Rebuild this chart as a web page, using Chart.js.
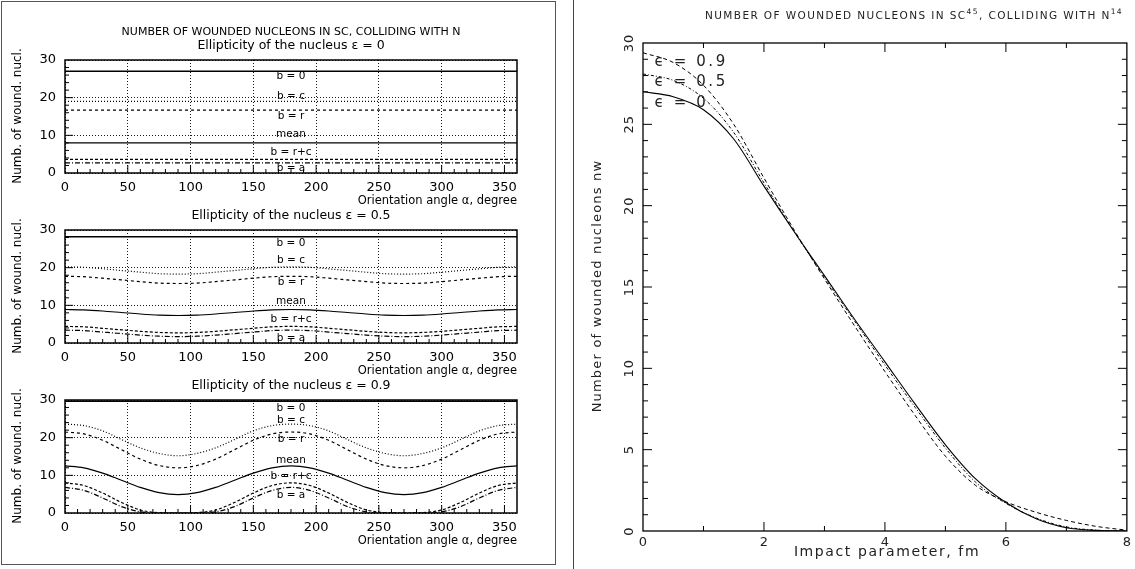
<!DOCTYPE html>
<html>
<head>
<meta charset="utf-8">
<script src="https://cdn.jsdelivr.net/npm/chart.js@4.4.1/dist/chart.umd.min.js"></script>
<style>
  body { margin: 0; background: #fff; width: 1135px; height: 569px; position: relative; overflow: hidden; }
  canvas { position: absolute; }
  #leftBox { position: absolute; left: 1px; top: 1px; width: 553px; height: 562px; border: 1.5px solid #555; }
  #rightLine { position: absolute; left: 573px; top: 0; width: 1px; height: 569px; background: #444; }
</style>
</head>
<body>
<div id="leftBox"></div>
<div id="rightLine"></div>
<canvas id="c1"></canvas>
<canvas id="c2"></canvas>
<canvas id="c3"></canvas>
<canvas id="c4"></canvas>
<script>
// ---- left panels: wounded nucleons vs orientation angle ----
const flatAngles = [0, 360]
const angles = [0, 15, 30, 45, 60, 75, 90, 105, 120, 135, 150, 165, 180, 195, 210, 225, 240, 255, 270, 285, 300, 315, 330, 345, 360]
const angleTicks = [0, 50, 100, 150, 200, 250, 300, 350]
const nwTicks = [0, 10, 20, 30]

// eps = 0 : flat lines
const e0_b0 = [27.0, 27.0]
const e0_bc = [19.0, 19.0]
const e0_br = [16.7, 16.7]
const e0_mean = [8.0, 8.0]
const e0_brc = [3.6, 3.6]
const e0_ba = [2.7, 2.7]

// eps = 0.5
const e05_b0 = [28.2, 28.2]
const e05_bc = [20.2, 20.1, 19.7, 19.25, 18.8, 18.4, 18.3, 18.4, 18.8, 19.25, 19.7, 20.1, 20.2, 20.1, 19.7, 19.25, 18.8, 18.4, 18.3, 18.4, 18.8, 19.25, 19.7, 20.1, 20.2]
const e05_br = [17.7, 17.6, 17.2, 16.75, 16.3, 15.9, 15.8, 15.9, 16.3, 16.75, 17.2, 17.6, 17.7, 17.6, 17.2, 16.75, 16.3, 15.9, 15.8, 15.9, 16.3, 16.75, 17.2, 17.6, 17.7]
const e05_mean = [8.9, 8.8, 8.5, 8.1, 7.7, 7.4, 7.3, 7.4, 7.7, 8.1, 8.5, 8.8, 8.9, 8.8, 8.5, 8.1, 7.7, 7.4, 7.3, 7.4, 7.7, 8.1, 8.5, 8.8, 8.9]
const e05_brc = [4.4, 4.3, 3.9, 3.5, 3.1, 2.8, 2.7, 2.8, 3.1, 3.5, 3.9, 4.3, 4.4, 4.3, 3.9, 3.5, 3.1, 2.8, 2.7, 2.8, 3.1, 3.5, 3.9, 4.3, 4.4]
const e05_ba = [3.4, 3.3, 2.9, 2.5, 2.1, 1.8, 1.7, 1.8, 2.1, 2.5, 2.9, 3.3, 3.4, 3.3, 2.9, 2.5, 2.1, 1.8, 1.7, 1.8, 2.1, 2.5, 2.9, 3.3, 3.4]

// eps = 0.9
const e09_b0 = [29.7, 29.7]
const e09_bc = [23.6, 23.2, 21.8, 19.5, 17.3, 15.8, 15.2, 15.8, 17.3, 19.5, 21.8, 23.2, 23.6, 23.2, 21.8, 19.5, 17.3, 15.8, 15.2, 15.8, 17.3, 19.5, 21.8, 23.2, 23.6]
const e09_br = [21.5, 21.0, 19.3, 16.8, 14.3, 12.6, 12.0, 12.6, 14.3, 16.8, 19.3, 21.0, 21.5, 21.0, 19.3, 16.8, 14.3, 12.6, 12.0, 12.6, 14.3, 16.8, 19.3, 21.0, 21.5]
const e09_mean = [12.5, 12.0, 10.6, 8.7, 6.8, 5.4, 4.9, 5.4, 6.8, 8.7, 10.6, 12.0, 12.5, 12.0, 10.6, 8.7, 6.8, 5.4, 4.9, 5.4, 6.8, 8.7, 10.6, 12.0, 12.5]
const e09_brc = [8.0, 7.3, 5.3, 2.8, 0.8, 0.1, 0.0, 0.1, 0.8, 2.8, 5.3, 7.3, 8.0, 7.3, 5.3, 2.8, 0.8, 0.1, 0.0, 0.1, 0.8, 2.8, 5.3, 7.3, 8.0]
const e09_ba = [6.8, 6.0, 4.0, 1.7, 0.3, 0.0, 0.0, 0.0, 0.3, 1.7, 4.0, 6.0, 6.8, 6.0, 4.0, 1.7, 0.3, 0.0, 0.0, 0.0, 0.3, 1.7, 4.0, 6.0, 6.8]

// ---- right panel: wounded nucleons vs impact parameter ----
const impact = [0, 0.5, 1, 1.5, 2, 2.5, 3, 3.5, 4, 4.5, 5, 5.5, 6, 6.5, 7, 7.5, 8]
const nwEps0 = [27.0, 26.7, 25.9, 24.1, 21.2, 18.4, 15.7, 13.0, 10.4, 7.8, 5.3, 3.2, 1.75, 0.75, 0.2, 0.04, 0.0]
const nwEps05 = [28.1, 27.7, 26.6, 24.5, 21.4, 18.4, 15.6, 12.9, 10.2, 7.6, 5.1, 3.0, 1.7, 0.8, 0.25, 0.05, 0.0]
const nwEps09 = [29.4, 28.8, 27.4, 25.0, 21.7, 18.5, 15.5, 12.6, 9.8, 7.1, 4.6, 2.8, 1.8, 1.15, 0.65, 0.28, 0.05]
const impactTicks = [0, 2, 4, 6, 8]
const rightNwTicks = [0, 5, 10, 15, 20, 25, 30]

const LEFT_FONT = 'DejaVu Sans'
const RIGHT_FONT = 'DejaVu Sans'

// styles per curve
const dashes = {
  b0: [], bc: [1, 2], br: [3, 3], mean: [], brc: [3, 2], ba: [5, 2, 1, 2]
}

const toPoints = (xs, ys) => xs.map((x, i) => ({x: x, y: ys[i]}))

const lineSet = (xs, ys, dash, width) => ({
  data: toPoints(xs, ys),
  borderColor: '#000',
  borderWidth: width || 1.2,
  borderDash: dash,
  pointRadius: 0,
  fill: false,
  cubicInterpolationMode: 'monotone'
})

// draws the frame, inward ticks and all texts
const framePlugin = {
  id: 'frame',
  afterDatasetsDraw(chart, args, opts) {
    const {ctx, chartArea: a, scales: {x, y}} = chart
    ctx.save()
    ctx.setLineDash([])
    ctx.strokeStyle = '#000'
    ctx.lineWidth = opts.frameWidth || 1.5
    ctx.strokeRect(a.left, a.top, a.right - a.left, a.bottom - a.top)
    ctx.lineWidth = 1
    ;(opts.ticks || []).forEach(t => {
      t.values.forEach(v => {
        ctx.beginPath()
        if (t.axis === 'x') {
          const px = x.getPixelForValue(v)
          t.sides.forEach(s => {
            const y0 = s === 'bottom' ? a.bottom : a.top
            const dir = s === 'bottom' ? -1 : 1
            ctx.moveTo(px, y0)
            ctx.lineTo(px, y0 + dir * t.len)
          })
        } else {
          const py = y.getPixelForValue(v)
          t.sides.forEach(s => {
            const x0 = s === 'left' ? a.left : a.right
            const dir = s === 'left' ? 1 : -1
            ctx.moveTo(x0, py)
            ctx.lineTo(x0 + dir * t.len, py)
          })
        }
        ctx.stroke()
      })
    })
    ctx.restore()
  },
  afterDraw(chart, args, opts) {
    const {ctx, scales: {x, y}} = chart
    const off = opts.offset || [0, 0]
    ctx.save()
    ctx.fillStyle = '#000'
    ctx.textBaseline = 'middle'
    ;(opts.texts || []).forEach(t => {
      let px, py
      if (t.dx !== undefined) {
        px = x.getPixelForValue(t.dx)
        py = y.getPixelForValue(t.dy)
      } else {
        px = t.px - off[0]
        py = t.py - off[1]
      }
      ctx.save()
      ctx.font = t.font
      ctx.letterSpacing = (t.spacing || 0) + 'px'
      ctx.fillStyle = t.color || '#000'
      ctx.translate(px, py)
      if (t.rotate) ctx.rotate(t.rotate)
      const segs = Array.isArray(t.text) ? t.text : [{t: t.text}]
      // measure rich text
      const supFont = t.supFont || t.font
      let total = 0
      segs.forEach(s => {
        ctx.font = s.sup ? supFont : t.font
        total += ctx.measureText(s.t).width
      })
      let cx = t.align === 'left' ? 0 : t.align === 'right' ? -total : -total / 2
      ctx.textAlign = 'left'
      segs.forEach(s => {
        ctx.font = s.sup ? supFont : t.font
        ctx.fillText(s.t, cx, s.sup ? -4 : 0)
        cx += ctx.measureText(s.t).width
      })
      ctx.restore()
    })
    // rotated y tick labels
    if (opts.yLabels) {
      const yl = opts.yLabels
      ctx.font = yl.font
      ctx.letterSpacing = (yl.spacing || 0) + 'px'
      ctx.fillStyle = yl.color || '#000'
      ctx.textAlign = 'center'
      yl.values.forEach(v => {
        ctx.save()
        ctx.translate(chart.chartArea.left - yl.gap, y.getPixelForValue(v))
        ctx.rotate(-Math.PI / 2)
        ctx.fillText(String(v), 0, 0)
        ctx.restore()
      })
    }
    ctx.restore()
  }
}
Chart.register(framePlugin)

const setupCanvas = (id, left, top, w, h) => {
  const c = document.getElementById(id)
  c.width = w
  c.height = h
  c.style.left = left + 'px'
  c.style.top = top + 'px'
  c.style.width = w + 'px'
  c.style.height = h + 'px'
  return c
}

// chart area of each left plot: x 65..517, height 113
const leftTops = [60, 230, 400]

const makeLeft = (id, idx, sets, subtitle, labelYs, extraTexts) => {
  const top = leftTops[idx]
  const cLeft = 4, cTop = top - 50, cW = 540, cH = 203
  const canvas = setupCanvas(id, cLeft, cTop, cW, cH)
  const bottom = top + 113
  const texts = [
    {text: subtitle, px: 291, py: top - 14, font: '12.5px ' + LEFT_FONT},
    {text: 'Orientation angle \u03b1, degree', px: 517, py: bottom + 28, font: '11.5px ' + LEFT_FONT, align: 'right'},
    {text: 'Numb. of wound. nucl.', px: 18, py: top + 56, font: '12px ' + LEFT_FONT, rotate: -Math.PI / 2}
  ].concat(extraTexts || [])
  const curveNames = ['b = 0', 'b = c', 'b = r', 'mean', 'b = r+c', 'b = a']
  curveNames.forEach((n, i) => {
    texts.push({text: n, dx: 180, dy: labelYs[i], font: '10.5px ' + LEFT_FONT})
  })
  const gridOpts = {color: '#000', lineWidth: 0.9, drawTicks: false}
  return new Chart(canvas, {
    type: 'line',
    data: {datasets: sets},
    options: {
      responsive: false,
      animation: false,
      devicePixelRatio: 1,
      layout: {padding: {left: 21, top: 50, right: 27, bottom: 18}},
      plugins: {
        legend: {display: false},
        tooltip: {enabled: false},
        frame: {
          offset: [cLeft, cTop],
          frameWidth: 1.5,
          texts: texts,
          ticks: [
            {axis: 'x', values: [10, 20, 30, 40, 60, 70, 80, 90, 110, 120, 130, 140, 160, 170, 180, 190, 210, 220, 230, 240, 260, 270, 280, 290, 310, 320, 330, 340], sides: ['bottom'], len: 4},
            {axis: 'x', values: [50, 100, 150, 200, 250, 300, 350], sides: ['bottom'], len: 8},
            {axis: 'y', values: [2, 4, 6, 8, 12, 14, 16, 18, 22, 24, 26, 28], sides: ['left'], len: 4},
            {axis: 'y', values: [10, 20], sides: ['left'], len: 8}
          ]
        }
      },
      scales: {
        x: {
          type: 'linear', min: 0, max: 360,
          afterBuildTicks: s => { s.ticks = angleTicks.map(v => ({value: v})) },
          afterFit: s => { s.height = 22 },
          grid: gridOpts,
          border: {display: false, dash: [1, 2]},
          ticks: {padding: 7, color: '#000', maxRotation: 0, autoSkip: false, font: {family: LEFT_FONT, size: 13}}
        },
        y: {
          type: 'linear', min: 0, max: 30,
          afterBuildTicks: s => { s.ticks = nwTicks.map(v => ({value: v})) },
          afterFit: s => { s.width = 40 },
          grid: gridOpts,
          border: {display: false, dash: [1, 2]},
          ticks: {padding: 9, color: '#000', font: {family: LEFT_FONT, size: 13}}
        }
      }
    }
  })
}

makeLeft('c1', 0, [
  lineSet(flatAngles, e0_b0, dashes.b0, 1.5),
  lineSet(flatAngles, e0_bc, dashes.bc),
  lineSet(flatAngles, e0_br, dashes.br),
  lineSet(flatAngles, e0_mean, dashes.mean),
  lineSet(flatAngles, e0_brc, dashes.brc),
  lineSet(flatAngles, e0_ba, dashes.ba)
], 'Ellipticity of the nucleus \u03b5 = 0', [25.6, 20.5, 15.0, 10.3, 5.6, 1.3],
  [{text: 'NUMBER OF WOUNDED NUCLEONS IN SC, COLLIDING WITH N', px: 291, py: 32, font: '11px ' + LEFT_FONT}])

makeLeft('c2', 1, [
  lineSet(flatAngles, e05_b0, dashes.b0, 1.5),
  lineSet(angles, e05_bc, dashes.bc),
  lineSet(angles, e05_br, dashes.br),
  lineSet(angles, e05_mean, dashes.mean),
  lineSet(angles, e05_brc, dashes.brc),
  lineSet(angles, e05_ba, dashes.ba)
], 'Ellipticity of the nucleus \u03b5 = 0.5', [26.5, 21.9, 16.1, 11.0, 6.2, 1.3])

makeLeft('c3', 2, [
  lineSet(flatAngles, e09_b0, dashes.b0, 1.5),
  lineSet(angles, e09_bc, dashes.bc),
  lineSet(angles, e09_br, dashes.br),
  lineSet(angles, e09_mean, dashes.mean),
  lineSet(angles, e09_brc, dashes.brc),
  lineSet(angles, e09_ba, dashes.ba)
], 'Ellipticity of the nucleus \u03b5 = 0.9', [27.8, 24.7, 19.6, 13.9, 9.7, 4.6])

// right chart: area x 643..1129, y 43..531
const rLeft = 575, rTop = 0
const rCanvas = setupCanvas('c4', rLeft, rTop, 560, 569)
new Chart(rCanvas, {
  type: 'line',
  data: {
    datasets: [
      lineSet(impact, nwEps0, [], 1.1),
      lineSet(impact, nwEps05, [3, 2, 1, 2], 1.0),
      lineSet(impact, nwEps09, [4, 3], 1.0)
    ]
  },
  options: {
    responsive: false,
    animation: false,
    devicePixelRatio: 1,
    layout: {padding: {left: 0, top: 43, right: 6, bottom: 18}},
    plugins: {
      legend: {display: false},
      tooltip: {enabled: false},
      frame: {
        offset: [rLeft, rTop],
        frameWidth: 1.3,
        ticks: [
          {axis: 'x', values: [1, 3, 5, 7], sides: ['bottom', 'top'], len: 5},
          {axis: 'x', values: [2, 4, 6], sides: ['bottom', 'top'], len: 9},
          {axis: 'y', values: [1, 2, 3, 4, 6, 7, 8, 9, 11, 12, 13, 14, 16, 17, 18, 19, 21, 22, 23, 24, 26, 27, 28, 29], sides: ['left', 'right'], len: 5},
          {axis: 'y', values: [5, 10, 15, 20, 25], sides: ['left', 'right'], len: 9}
        ],
        yLabels: {values: rightNwTicks, gap: 13, font: '13px ' + RIGHT_FONT, color: '#222', spacing: 1},
        texts: [
          {text: [{t: 'NUMBER OF WOUNDED NUCLEONS IN SC'}, {t: '45', sup: true}, {t: ', COLLIDING WITH N'}, {t: '14', sup: true}],
            px: 914, py: 16, font: '10.5px ' + RIGHT_FONT, supFont: '7.5px ' + RIGHT_FONT, spacing: 1.4, color: '#222'},
          {text: 'Number of wounded nucleons nw', px: 598, py: 286, font: '13px ' + RIGHT_FONT, spacing: 1.2, rotate: -Math.PI / 2, color: '#222'},
          {text: 'Impact parameter, fm', px: 887, py: 552, font: '14px ' + RIGHT_FONT, spacing: 1.6, color: '#222'},
          {text: '\u03f5 = 0.9', dx: 0.19, dy: 28.8, font: '15px ' + RIGHT_FONT, spacing: 2.6, align: 'left', color: '#222'},
          {text: '\u03f5 = 0.5', dx: 0.19, dy: 27.6, font: '15px ' + RIGHT_FONT, spacing: 2.6, align: 'left', color: '#222'},
          {text: '\u03f5 = 0', dx: 0.19, dy: 26.3, font: '15px ' + RIGHT_FONT, spacing: 2.6, align: 'left', color: '#222'}
        ]
      }
    },
    scales: {
      x: {
        type: 'linear', min: 0, max: 8,
        afterBuildTicks: s => { s.ticks = impactTicks.map(v => ({value: v})) },
        afterFit: s => { s.height = 20 },
        grid: {display: false, drawTicks: false},
        border: {display: false},
        ticks: {padding: 4, color: '#222', maxRotation: 0, autoSkip: false, font: {family: RIGHT_FONT, size: 13}}
      },
      y: {
        type: 'linear', min: 0, max: 30,
        afterFit: s => { s.width = 68 },
        grid: {display: false, drawTicks: false},
        border: {display: false},
        ticks: {display: false}
      }
    }
  }
})
</script>
</body>
</html>
